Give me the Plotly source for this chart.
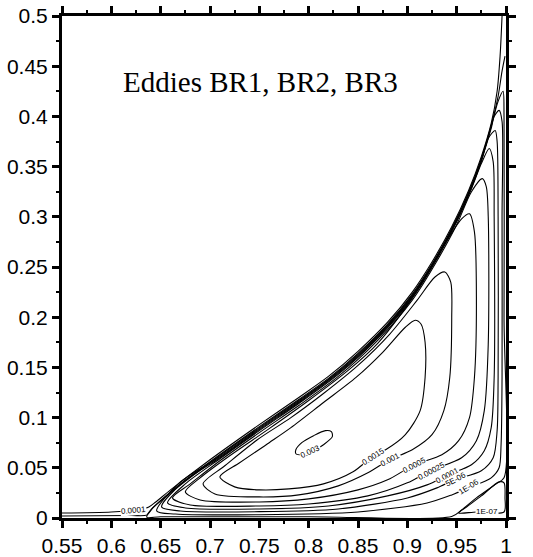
import plotly.graph_objects as go

# contour lines (x, y in data units)
c003_x = [0.787, 0.793, 0.805, 0.817, 0.823, 0.824, 0.815, 0.803, 0.793, 0.787, 0.787]
c003_y = [0.068, 0.075, 0.082, 0.087, 0.086, 0.081, 0.073, 0.066, 0.063, 0.064, 0.068]

c0015_x = [0.71, 0.725, 0.75, 0.78, 0.815, 0.845, 0.867, 0.878, 0.898, 0.913, 0.918, 0.918, 0.914, 0.908, 0.898, 0.875, 0.848, 0.815, 0.782, 0.76, 0.73, 0.71]
c0015_y = [0.041, 0.031, 0.028, 0.029, 0.034, 0.046, 0.063, 0.068, 0.083, 0.107, 0.140, 0.175, 0.193, 0.197, 0.190, 0.165, 0.140, 0.115, 0.090, 0.075, 0.055, 0.041]

c001_x = [0.693, 0.705, 0.75, 0.79, 0.83, 0.86, 0.882, 0.905, 0.925, 0.937, 0.943, 0.945, 0.944, 0.938, 0.928, 0.91, 0.882, 0.85, 0.815, 0.782, 0.748, 0.715, 0.693]
c001_y = [0.034, 0.024, 0.021, 0.023, 0.032, 0.045, 0.058, 0.068, 0.083, 0.107, 0.140, 0.200, 0.235, 0.245, 0.240, 0.217, 0.183, 0.152, 0.124, 0.100, 0.078, 0.052, 0.034]

c0005_x = [0.675, 0.69, 0.75, 0.80, 0.85, 0.88, 0.907, 0.935, 0.952, 0.963, 0.968, 0.970, 0.968, 0.963, 0.955, 0.94, 0.92, 0.90, 0.87, 0.84, 0.80, 0.76, 0.72, 0.69, 0.675]
c0005_y = [0.026, 0.018, 0.016, 0.019, 0.028, 0.038, 0.053, 0.063, 0.077, 0.100, 0.140, 0.220, 0.285, 0.303, 0.298, 0.276, 0.243, 0.212, 0.174, 0.147, 0.117, 0.089, 0.062, 0.040, 0.026]

c00025_x = [0.662, 0.68, 0.75, 0.80, 0.86, 0.90, 0.923, 0.955, 0.97, 0.978, 0.982, 0.982, 0.980, 0.976, 0.965, 0.95, 0.93, 0.905, 0.87, 0.83, 0.79, 0.75, 0.71, 0.68, 0.662]
c00025_y = [0.020, 0.013, 0.012, 0.014, 0.022, 0.035, 0.047, 0.060, 0.077, 0.107, 0.173, 0.300, 0.330, 0.338, 0.325, 0.292, 0.256, 0.217, 0.177, 0.141, 0.112, 0.085, 0.057, 0.034, 0.020]

c0001_x = [0.657, 0.675, 0.75, 0.82, 0.88, 0.92, 0.941, 0.965, 0.978, 0.985, 0.988, 0.988, 0.987, 0.983, 0.975, 0.965, 0.95, 0.93, 0.905, 0.87, 0.83, 0.79, 0.75, 0.71, 0.675, 0.657]
c0001_y = [0.015, 0.010, 0.009, 0.012, 0.022, 0.033, 0.043, 0.053, 0.067, 0.090, 0.140, 0.300, 0.355, 0.368, 0.353, 0.328, 0.295, 0.258, 0.219, 0.179, 0.143, 0.114, 0.087, 0.059, 0.034, 0.015]

c5e6_x = [0.651, 0.67, 0.75, 0.83, 0.90, 0.93, 0.948, 0.975, 0.987, 0.991, 0.992, 0.992, 0.991, 0.989, 0.982, 0.975, 0.965, 0.95, 0.93, 0.905, 0.87, 0.83, 0.79, 0.75, 0.71, 0.672, 0.651]
c5e6_y = [0.011, 0.007, 0.0063, 0.009, 0.020, 0.030, 0.038, 0.047, 0.060, 0.087, 0.140, 0.300, 0.375, 0.386, 0.378, 0.355, 0.329, 0.296, 0.259, 0.220, 0.180, 0.144, 0.115, 0.088, 0.060, 0.035, 0.011]

c1e6_x = [0.646, 0.665, 0.75, 0.85, 0.92, 0.945, 0.962, 0.985, 0.993, 0.995, 0.996, 0.996, 0.996, 0.993, 0.988, 0.985, 0.975, 0.965, 0.95, 0.93, 0.905, 0.87, 0.83, 0.79, 0.75, 0.71, 0.67, 0.646]
c1e6_y = [0.007, 0.004, 0.0033, 0.006, 0.015, 0.023, 0.030, 0.040, 0.050, 0.073, 0.140, 0.300, 0.395, 0.406, 0.400, 0.388, 0.356, 0.330, 0.297, 0.260, 0.221, 0.181, 0.145, 0.116, 0.089, 0.061, 0.036, 0.007]

c1e7_x = [0.952, 0.97, 0.998, 0.999, 0.998, 0.993, 0.975, 0.96, 0.952]
c1e7_y = [0.005, 0.006, 0.006, 0.020, 0.035, 0.036, 0.022, 0.011, 0.005]

sep_x = [0.636, 0.64, 0.66, 0.70, 0.75, 0.79, 0.82, 0.85, 0.88, 0.905, 0.925, 0.945, 0.962, 0.975, 0.985, 0.992, 0.997, 0.998, 0.998, 0.998, 0.99, 0.97, 0.955, 0.945, 0.80, 0.65, 0.636]
sep_y = [0.0008, 0.008, 0.025, 0.055, 0.090, 0.117, 0.138, 0.163, 0.192, 0.222, 0.252, 0.287, 0.323, 0.357, 0.390, 0.415, 0.425, 0.40, 0.20, 0.040, 0.034, 0.020, 0.008, 0.0015, 0.0012, 0.0012, 0.0008]

out1_x = [0.55, 0.60, 0.625, 0.638, 0.645, 0.66, 0.70, 0.75, 0.79, 0.82, 0.85, 0.88, 0.905, 0.925, 0.945, 0.962, 0.975, 0.985, 0.991, 0.994, 0.996]
out1_y = [0.005, 0.006, 0.008, 0.011, 0.016, 0.028, 0.058, 0.093, 0.120, 0.141, 0.166, 0.195, 0.225, 0.255, 0.290, 0.326, 0.360, 0.393, 0.425, 0.46, 0.50]

out2_x = [0.55, 0.62, 0.636, 0.642, 0.66, 0.70, 0.75, 0.79, 0.82, 0.85, 0.88, 0.905, 0.925, 0.945, 0.962, 0.975, 0.985, 0.992, 0.996, 0.999]
out2_y = [0.002, 0.0025, 0.003, 0.010, 0.026, 0.056, 0.091, 0.118, 0.139, 0.164, 0.193, 0.223, 0.253, 0.288, 0.324, 0.358, 0.391, 0.42, 0.445, 0.46]

lines = [
    (c003_x, c003_y), (c0015_x, c0015_y), (c001_x, c001_y), (c0005_x, c0005_y),
    (c00025_x, c00025_y), (c0001_x, c0001_y), (c5e6_x, c5e6_y), (c1e6_x, c1e6_y),
    (c1e7_x, c1e7_y), (sep_x, sep_y), (out1_x, out1_y), (out2_x, out2_y),
]

# contour labels: text, position, angle
label_text = ["0.003", "0.0015", "0.001", "0.0005", "0.00025", "0.0001", "5E-06", "1E-06", "1E-07", "0.0001"]
label_x = [0.802, 0.866, 0.883, 0.907, 0.924, 0.941, 0.949, 0.963, 0.981, 0.622]
label_y = [0.066, 0.061, 0.058, 0.052, 0.046, 0.042, 0.038, 0.031, 0.006, 0.007]
label_angle = [-25, -33, -28, -28, -28, -28, -28, -32, 0, -5]

x_ticks = [0.55, 0.6, 0.65, 0.7, 0.75, 0.8, 0.85, 0.9, 0.95, 1.0]
x_ticktext = ["0.55", "0.6", "0.65", "0.7", "0.75", "0.8", "0.85", "0.9", "0.95", "1"]
y_ticks = [0, 0.05, 0.1, 0.15, 0.2, 0.25, 0.3, 0.35, 0.4, 0.45, 0.5]
y_ticktext = ["0", "0.05", "0.1", "0.15", "0.2", "0.25", "0.3", "0.35", "0.4", "0.45", "0.5"]

fig = go.Figure()
for xs, ys in lines:
    fig.add_trace(go.Scatter(x=xs, y=ys, mode="lines",
                             line=dict(color="black", width=1.1, shape="spline", smoothing=0.8),
                             hoverinfo="skip", showlegend=False))

for t, x, y, a in zip(label_text, label_x, label_y, label_angle):
    fig.add_annotation(x=x, y=y, text=t, showarrow=False, textangle=a,
                       font=dict(family="Liberation Sans", size=8, color="black"),
                       bgcolor="white", borderpad=0)

fig.add_annotation(x=0.7515, y=0.434, text="Eddies BR1, BR2, BR3", showarrow=False,
                   font=dict(family="Liberation Serif", size=29, color="black"))

axis_style = dict(showline=True, linecolor="black", linewidth=3, mirror="ticks",
                  ticks="outside", ticklen=7, tickwidth=3, tickcolor="black",
                  showgrid=False, zeroline=False, automargin=False, ticklabeloverflow="allow",
                  tickfont=dict(family="Liberation Sans", size=21, color="black"))

fig.update_xaxes(range=[0.55, 1.0], tickvals=x_ticks, ticktext=x_ticktext,
                 minor=dict(ticks="outside", ticklen=3, tickwidth=1.5, tickcolor="black", dtick=0.025, tick0=0.55),
                 **axis_style)
fig.update_yaxes(range=[0, 0.5], tickvals=y_ticks, ticktext=y_ticktext,
                 minor=dict(ticks="outside", ticklen=3, tickwidth=1.5, tickcolor="black", dtick=0.025, tick0=0),
                 **axis_style)

fig.update_layout(width=533, height=557, margin=dict(l=62, r=27, t=16, b=39),
                  plot_bgcolor="white", paper_bgcolor="white")

# drop the default body margin so the figure sits at the page corner
fig.write_html("out.html", config={"displayModeBar": False},
               post_script="document.body.style.margin='0px';")
